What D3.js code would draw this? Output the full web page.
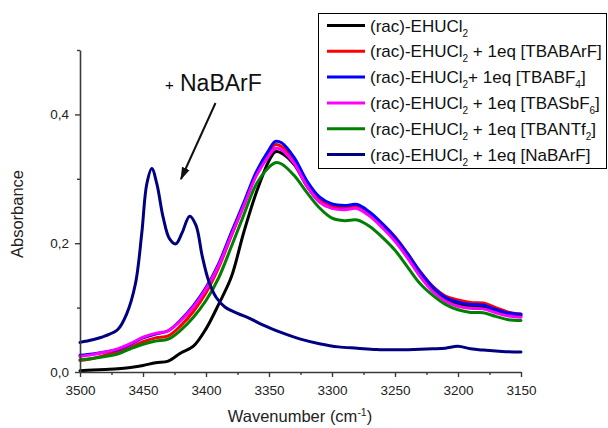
<!DOCTYPE html>
<html><head><meta charset="utf-8">
<script src="https://cdn.jsdelivr.net/npm/d3@7"></script>
<style>
html,body{margin:0;padding:0;background:#fff;}
svg{display:block;font-family:Arial,"Liberation Sans",sans-serif;}
</style></head>
<body>
<svg id="chart" width="608" height="428"></svg>
<script>
// ---- data ----
const wavenumbers = [3500,3490,3480,3470,3460,3450,3440,3430,3420,3410,3400,3390,3380,3370,3360,3350,3345,
  3340,3330,3320,3310,3300,3290,3280,3270,3260,3250,3240,3230,3220,3210,3200,3190,3180,3170,3160,3150];
const ehucl = [0.002,0.003,0.004,0.005,0.007,0.010,0.0145,0.017,0.0295,0.040,0.067,0.105,0.147,0.217,0.279,0.328,0.342,
  0.340,0.322,0.289,0.265,0.255,0.254,0.256,0.245,0.228,0.207,0.181,0.152,0.129,0.114,0.106,0.102,0.101,0.095,0.089,0.087];
const tbabarf = [0.018,0.021,0.026,0.031,0.038,0.047,0.053,0.056,0.072,0.094,0.123,0.162,0.211,0.259,0.308,0.342,0.353,
  0.350,0.329,0.294,0.269,0.259,0.256,0.258,0.247,0.230,0.210,0.184,0.156,0.133,0.118,0.112,0.108,0.107,0.100,0.093,0.090];
const tbabf4 = [0.026,0.028,0.031,0.035,0.043,0.053,0.059,0.064,0.081,0.103,0.131,0.168,0.216,0.263,0.311,0.345,0.358,
  0.356,0.333,0.297,0.272,0.261,0.2585,0.260,0.248,0.230,0.209,0.1835,0.155,0.132,0.116,0.1085,0.105,0.104,0.097,0.0915,0.0895];
const tbasbf6 = [0.024,0.027,0.031,0.036,0.044,0.054,0.060,0.064,0.080,0.101,0.129,0.165,0.212,0.258,0.305,0.336,0.347,
  0.345,0.324,0.289,0.264,0.254,0.252,0.254,0.242,0.224,0.203,0.177,0.148,0.125,0.110,0.102,0.099,0.098,0.092,0.087,0.085];
const tbantf2 = [0.019,0.021,0.024,0.028,0.036,0.043,0.048,0.051,0.065,0.085,0.111,0.146,0.194,0.244,0.292,0.318,0.325,
  0.323,0.305,0.279,0.255,0.239,0.235,0.236,0.226,0.209,0.189,0.163,0.137,0.119,0.105,0.0966,0.0925,0.092,0.0863,0.0812,0.080];

const nabarfWavenumbers = [3500,3490,3480,3470,3463,3456,3451,3447,3443,3439,3434,3429,3424,3419,3413,3408,3403,3398,3392,
  3385,3375,3365,3355,3340,3325,3310,3295,3280,3265,3250,3235,3220,3210,3200,3190,3180,3165,3150];
const nabarf = [0.046,0.050,0.056,0.066,0.090,0.137,0.215,0.292,0.316,0.292,0.240,0.207,0.199,0.216,0.242,0.228,0.180,0.142,0.116,
  0.101,0.091,0.083,0.073,0.061,0.051,0.044,0.039,0.037,0.035,0.0345,0.035,0.036,0.037,0.040,0.036,0.034,0.032,0.031];

const seriesNames = ["ehucl","tbabarf","tbabf4","tbasbf6","tbantf2","nabarf"];
const seriesColors = ["#000000","#ff0000","#0000ff","#ff00ff","#008000","#000080"];
const legendLabels = [
  ["(rac)-EHUCl","2",""],
  ["(rac)-EHUCl","2"," + 1eq [TBABArF]"],
  ["(rac)-EHUCl","2","+ 1eq [TBABF","4","]"],
  ["(rac)-EHUCl","2"," + 1eq [TBASbF","6","]"],
  ["(rac)-EHUCl","2"," + 1eq [TBANTf","2","]"],
  ["(rac)-EHUCl","2"," + 1eq [NaBArF]"]
];
const xTicks = [3500,3450,3400,3350,3300,3250,3200,3150];
const xMinorTicks = [3475,3425,3375,3325,3275,3225,3175];
const yTicks = [0.0,0.2,0.4];
const yMinorTicks = [0.1,0.3,0.5];
const yTickLabels = ["0,0","0,2","0,4"];

// ---- build ----
const svg = d3.select("#chart");
const x = d3.scaleLinear().domain([3500,3150]).range([80,521]);
const y = d3.scaleLinear().domain([0,0.5]).range([372,50]);

const allSeries = [
  {name:"ehucl", w:wavenumbers, v:ehucl},
  {name:"tbabarf", w:wavenumbers, v:tbabarf},
  {name:"tbabf4", w:wavenumbers, v:tbabf4},
  {name:"tbasbf6", w:wavenumbers, v:tbasbf6},
  {name:"tbantf2", w:wavenumbers, v:tbantf2},
  {name:"nabarf", w:nabarfWavenumbers, v:nabarf}
];

const line = d3.line().x(d=>x(d[0])).y(d=>y(d[1])).curve(d3.curveCatmullRom.alpha(0.5));
allSeries.forEach((s,i)=>{
  svg.append("path")
    .attr("d", line(s.w.map((w,j)=>[w,s.v[j]])))
    .attr("fill","none").attr("stroke",seriesColors[i])
    .attr("stroke-width",3).attr("stroke-linejoin","round").attr("stroke-linecap","round");
});

// axes
const axisColor = "#3a3a3a";
const xAxis = svg.append("g").attr("transform","translate(0,372)")
  .call(d3.axisBottom(x).tickValues(xTicks).tickSize(5).tickSizeOuter(0).tickFormat(d3.format("d")));
svg.append("g").attr("transform","translate(0,372)")
  .call(d3.axisBottom(x).tickValues(xMinorTicks).tickSize(3).tickSizeOuter(0).tickFormat(""))
  .select(".domain").remove();
const yAxis = svg.append("g").attr("transform","translate(80,0)")
  .call(d3.axisLeft(y).tickValues(yTicks).tickSize(5).tickSizeOuter(0).tickFormat((d,i)=>yTickLabels[i]));
svg.append("g").attr("transform","translate(80,0)")
  .call(d3.axisLeft(y).tickValues(yMinorTicks).tickSize(3).tickSizeOuter(0).tickFormat(""))
  .select(".domain").remove();
svg.selectAll(".domain").attr("stroke",axisColor).attr("stroke-width",1.6);
svg.selectAll(".tick line").attr("stroke",axisColor).attr("stroke-width",1.4);
svg.selectAll(".tick text").attr("font-size",13.5).attr("fill","#222")
  .attr("font-family","Arial, 'Liberation Sans', sans-serif");
xAxis.selectAll(".tick text").attr("dy","0.72em").attr("y",13);
yAxis.selectAll(".tick text").attr("x",-11);

// axis titles
const xt = svg.append("text").attr("x",300).attr("y",422).attr("text-anchor","middle")
  .attr("font-size",16.5).attr("fill","#222");
xt.append("tspan").text("Wavenumber (cm");
xt.append("tspan").attr("dy",-6).attr("font-size",10.5).text("-1");
xt.append("tspan").attr("dy",6).text(")");
svg.append("text").attr("transform","translate(23,214) rotate(-90)").attr("text-anchor","middle")
  .attr("font-size",16.5).attr("fill","#222").text("Absorbance");

// annotation
svg.append("text").attr("x",165).attr("y",90).attr("font-size",15).attr("fill","#000").text("+");
svg.append("text").attr("x",180).attr("y",91).attr("font-size",23).attr("fill","#111").text("NaBArF");
svg.append("defs").append("marker").attr("id","arr").attr("viewBox","0 0 10 10")
  .attr("refX",9).attr("refY",5).attr("markerWidth",6.5).attr("markerHeight",6.5)
  .attr("orient","auto").attr("markerUnits","strokeWidth")
  .append("path").attr("d","M0,1.8 L10,5 L0,8.2 z").attr("fill","#111");
svg.append("line").attr("x1",215.5).attr("y1",103).attr("x2",181).attr("y2",179)
  .attr("stroke","#111").attr("stroke-width",2).attr("marker-end","url(#arr)");

// legend
const lg = svg.append("g");
lg.append("rect").attr("x",318.5).attr("y",13.5).attr("width",288).attr("height",155)
  .attr("fill","#fff").attr("stroke","#000").attr("stroke-width",1);
legendLabels.forEach((parts,i)=>{
  const cy = 25.5 + i*25.8;
  lg.append("line").attr("x1",327).attr("x2",365).attr("y1",cy).attr("y2",cy)
    .attr("stroke",seriesColors[i]).attr("stroke-width",3);
  const t = lg.append("text").attr("x",370).attr("y",cy+6).attr("font-size",17).attr("fill","#111");
  parts.forEach((p,k)=>{
    if(p==="") return;
    const isSub = (k%2===1);
    const ts = t.append("tspan").text(p);
    if(isSub){ ts.attr("font-size",10).attr("dy",5); }
    else if(k>0){ ts.attr("dy",-5); }
  });
});
</script>
</body></html>
